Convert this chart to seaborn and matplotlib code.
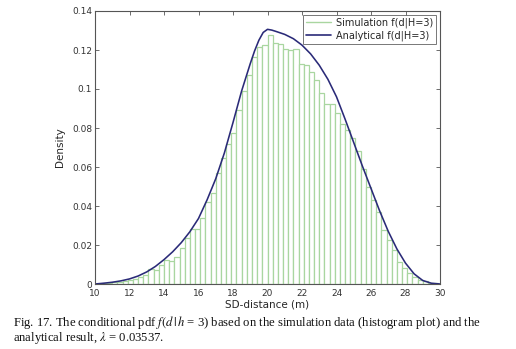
import numpy as np
import pandas as pd
import matplotlib
matplotlib.use("Agg")
import matplotlib.pyplot as plt
import seaborn as sns
from matplotlib.lines import Line2D

# ---- data ----
bin_start = 10.1
bin_width = 0.3
sim_density = [
    0.0002, 0.0004, 0.0006, 0.0009, 0.0012, 0.0016, 0.0020, 0.0026, 0.0035, 0.0046,
    0.0077, 0.0072, 0.0097, 0.0123, 0.0120, 0.0140, 0.0183, 0.0234, 0.0280, 0.0280,
    0.0337, 0.0422, 0.0468, 0.0568, 0.0644, 0.0718, 0.0773, 0.0892, 0.0991, 0.1072,
    0.1166, 0.1217, 0.1226, 0.1277, 0.1234, 0.1229, 0.1203, 0.1200, 0.1203, 0.1128,
    0.1123, 0.1089, 0.1046, 0.0978, 0.0923, 0.0923, 0.0875, 0.0820, 0.0790, 0.0747,
    0.0680, 0.0590, 0.0500, 0.0430, 0.0371, 0.0275, 0.0226, 0.0174, 0.0115, 0.0082,
    0.0056, 0.0037, 0.0021, 0.0013, 0.0007, 0.0003,
]
curve_d = [10.0, 10.5, 11.0, 11.5, 12.0, 12.5, 13.0, 13.5, 14.0, 14.5, 15.0, 15.5,
           16.0, 16.5, 17.0, 17.5, 18.0, 18.5, 19.0, 19.25, 19.5, 19.75, 20.0,
           20.25, 20.5, 21.0, 21.5, 22.0, 22.5, 23.0, 23.5, 24.0, 24.5, 25.0,
           25.5, 26.0, 26.5, 27.0, 27.5, 28.0, 28.5, 29.0, 29.5, 30.0]
curve_f = [0.0, 0.0004, 0.0009, 0.0016, 0.0026, 0.0041, 0.0062, 0.0090, 0.0125,
           0.0165, 0.0212, 0.0268, 0.0336, 0.0432, 0.0540, 0.0672, 0.0828, 0.0990,
           0.1130, 0.1195, 0.1250, 0.1290, 0.1306, 0.1302, 0.1295, 0.1280, 0.1258,
           0.1225, 0.1180, 0.1122, 0.1050, 0.0960, 0.0845, 0.0725, 0.0605, 0.0490,
           0.0375, 0.0270, 0.0180, 0.0107, 0.0052, 0.0018, 0.0004, 0.0]
x_ticks = [10, 12, 14, 16, 18, 20, 22, 24, 26, 28, 30]
y_ticks = [0, 0.02, 0.04, 0.06, 0.08, 0.1, 0.12, 0.14]
y_tick_labels = ["0", "0.02", "0.04", "0.06", "0.08", "0.1", "0.12", "0.14"]
legend_labels = ["Simulation f(d|H=3)", "Analytical f(d|H=3)"]

n_bins = len(sim_density)
edges = [float(bin_start + bin_width * k) for k in range(n_bins + 1)]
centers = [(edges[k] + edges[k + 1]) / 2 for k in range(n_bins)]
hist_df = pd.DataFrame({"d": centers, "w": sim_density})
curve_df = pd.DataFrame({"d": curve_d, "f": curve_f})

sns.set_style("white")
plt.rcParams["font.family"] = ["DejaVu Sans"]

green = "#a9d6a0"
navy = "#2a2a78"
gray = "#555555"

fig = plt.figure(figsize=(5.16, 3.49), dpi=100)
ax = fig.add_axes([95 / 516, 1 - 284 / 349, 345 / 516, 273 / 349])

sns.histplot(data=hist_df, x="d", weights="w", bins=edges, stat="count",
             fill=True, facecolor="white", edgecolor=green, linewidth=0.9,
             ax=ax)
sns.lineplot(data=curve_df, x="d", y="f", color=navy, linewidth=1.15, ax=ax)

ax.set_xlim(10, 30)
ax.set_ylim(0, 0.14)
ax.set_xticks(x_ticks)
ax.set_xticklabels([str(t) for t in x_ticks])
ax.set_yticks(y_ticks)
ax.set_yticklabels(y_tick_labels)
ax.tick_params(direction="in", length=3, width=0.6, colors=gray,
               labelsize=6.5, labelcolor="#333333",
               top=True, right=True, bottom=True, left=True, pad=2)
ax.tick_params(axis="x", pad=3.5)
for s in ax.spines.values():
    s.set_color(gray)
    s.set_linewidth(0.8)
    s.set_visible(True)

ax.set_xlabel("SD-distance (m)", fontsize=7.5, labelpad=1)
ax.set_ylabel("Density", fontsize=7.5, labelpad=5)

handles = [Line2D([0], [0], color=green, lw=1.0),
           Line2D([0], [0], color=navy, lw=1.2)]
leg = ax.legend(handles, legend_labels, loc="upper right", fontsize=7,
                frameon=True, fancybox=False, edgecolor=gray,
                handlelength=2.6, borderpad=0.3, labelspacing=0.25,
                borderaxespad=0.4, handletextpad=0.5)
leg.get_frame().set_linewidth(0.7)

plt.rcParams["mathtext.fontset"] = "stix"
cap_kw = dict(fontsize=9.1, family=["Liberation Serif", "DejaVu Serif"],
              color="#111111", va="baseline", ha="left")
fig.text(13 / 516, 1 - 326 / 349,
         "Fig. 17. The conditional pdf $f(d\\,|\\,h$ = 3) based on the simulation "
         "data (histogram plot) and the", **cap_kw)
fig.text(13 / 516, 1 - 341 / 349,
         "analytical result, $\\lambda$ = 0.03537.", **cap_kw)

fig.savefig("out.png", dpi=100)
